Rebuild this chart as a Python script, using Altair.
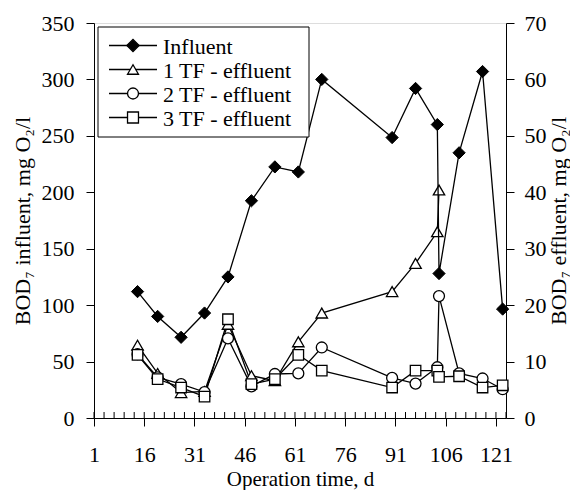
import altair as alt
import pandas as pd

FONT = "Liberation Serif, Times New Roman, Times, DejaVu Serif, serif"

# ---------------- data ----------------
inf_days = [14, 20, 27, 34, 41, 48, 55, 62, 69, 90, 97, 103.5, 104, 110, 117, 123]
inf_vals = [112, 90, 71.5, 93, 125, 192.5, 222.5, 218, 300, 248.5, 292, 260, 128, 235, 307, 96.5]

tf1_days = [14, 20, 27, 34, 41, 48, 55, 62, 69, 90, 97, 103.5, 104]
tf1_vals = [12.9, 7.9, 4.5, 4.7, 16.6, 7.5, 6.6, 13.5, 18.6, 22.4, 27.4, 33.0, 40.4]

tf2_days = [14, 20, 27, 34, 41, 48, 55, 62, 69, 90, 97, 103.5, 104, 110, 117, 123]
tf2_vals = [11.3, 7.2, 6.0, 4.6, 14.1, 5.6, 7.8, 7.9, 12.5, 7.1, 6.1, 9.0, 21.6, 7.9, 7.0, 5.1]

tf3_days = [14, 20, 27, 34, 41, 48, 55, 62, 69, 90, 97, 103.5, 104, 110, 117, 123]
tf3_vals = [11.2, 6.9, 5.4, 3.8, 17.5, 6.0, 6.9, 11.2, 8.4, 5.4, 8.4, 8.4, 7.3, 7.4, 5.4, 5.8]

x_major = [1, 16, 31, 46, 61, 76, 91, 106, 121]
x_minor = list(range(1, 125, 3))
y_left_ticks = [0, 50, 100, 150, 200, 250, 300, 350]
y_right_ticks = [0, 10, 20, 30, 40, 50, 60, 70]

legend_labels = ["Influent", "1 TF - effluent", "2 TF - effluent", "3 TF - effluent"]
legend_shapes = ["diamond", "triangle-up", "circle", "square"]
legend_fills = ["black", "white", "white", "white"]

# ---------------- chart ----------------
W, H = 412, 395
FS = 22      # tick labels
TFS = 22     # axis titles
LFS = 22     # legend
LW = 1.3

common = dict(
    grid=False, domainColor="black", tickColor="black", labelFont=FONT,
    labelFontSize=FS, labelColor="black", titleFont=FONT,
    titleFontWeight="normal", titleColor="black", labelFlush=False, tickSize=8,
)

xenc = alt.X(
    "day:Q",
    scale=alt.Scale(domain=[1, 124], nice=False, zero=False),
    axis=alt.Axis(
        values=x_major, title="Operation time, d", labelPadding=35,
        labelBaseline="alphabetic", titleY=67, titleBaseline="alphabetic",
        titleFontSize=21, **common,
    ),
)

yl = alt.Y(
    "val:Q",
    scale=alt.Scale(domain=[0, 350], nice=False),
    axis=alt.Axis(
        values=y_left_ticks, title="BOD₇ influent, mg O₂/l", orient="left",
        labelPadding=12, titleX=-72, titleY=H / 2, titleAngle=-90,
        titleAlign="center", titleBaseline="middle", titleFontSize=TFS, **common,
    ),
)

yr = alt.Y(
    "val:Q",
    scale=alt.Scale(domain=[0, 70], nice=False),
    axis=alt.Axis(
        values=y_right_ticks, title="BOD₇ effluent, mg O₂/l", orient="right",
        labelPadding=10, titleX=52, titleY=H / 2, titleAngle=-90,
        titleAlign="center", titleBaseline="middle", titleFontSize=TFS, **common,
    ),
)

inf_df = pd.DataFrame({"day": inf_days, "val": inf_vals})
inf_line = alt.Chart(inf_df).mark_line(color="black", strokeWidth=LW).encode(x=xenc, y=yl)
inf_pts = alt.Chart(inf_df).mark_point(
    shape="diamond", filled=True, fill="black", stroke="black", strokeWidth=1,
    size=150, opacity=1
).encode(x=xenc, y=yl)

# inner tick marks on the x axis
minor_df = pd.DataFrame({"day": x_minor})
minor = alt.Chart(minor_df).mark_rule(color="black", strokeWidth=1).encode(
    x=xenc, y=alt.value(H), y2=alt.value(H - 6)
)

# legend
one = pd.DataFrame({"k": [0]})
leg_layers = [
    alt.Chart(one).mark_rect(fill="white", stroke="black", strokeWidth=1).encode(
        x=alt.value(4), x2=alt.value(215), y=alt.value(4), y2=alt.value(114)
    )
]
for i, (lab, shp, fl) in enumerate(zip(legend_labels, legend_shapes, legend_fills)):
    yy = 22.5 + 24 * i
    leg_layers.append(
        alt.Chart(one).mark_rule(color="black", strokeWidth=LW).encode(
            x=alt.value(15), x2=alt.value(63), y=alt.value(yy)
        )
    )
    leg_layers.append(
        alt.Chart(one).mark_point(
            shape=shp, filled=True, fill=fl, stroke="black", strokeWidth=LW,
            size=150 if shp == "diamond" else 120, opacity=1
        ).encode(x=alt.value(39), y=alt.value(yy))
    )
    leg_layers.append(
        alt.Chart(one).mark_text(
            text=lab, align="left", baseline="middle", font=FONT, fontSize=LFS,
            color="black"
        ).encode(x=alt.value(69), y=alt.value(yy + 1))
    )

left_group = alt.layer(minor, inf_line, inf_pts, *leg_layers)

eff_lines = []
eff_pts = []
for days, vals, shp, sz in [
    (tf1_days, tf1_vals, "triangle-up", 130),
    (tf2_days, tf2_vals, "circle", 120),
    (tf3_days, tf3_vals, "square", 110),
]:
    df = pd.DataFrame({"day": days, "val": vals})
    eff_lines.append(alt.Chart(df).mark_line(color="black", strokeWidth=LW).encode(x=xenc, y=yr))
    eff_pts.append(
        alt.Chart(df).mark_point(
            shape=shp, filled=True, fill="white", stroke="black", strokeWidth=LW,
            size=sz, opacity=1
        ).encode(x=xenc, y=yr)
    )

right_group = alt.layer(*eff_lines, *eff_pts)

chart = (
    alt.layer(right_group, left_group)
    .resolve_scale(y="independent")
    .properties(
        width=W, height=H,
        padding={"left": 86, "top": 15, "right": 64, "bottom": 72},
        autosize=alt.AutoSizeParams(type="none"),
    )
    .configure_view(stroke="black", strokeWidth=1)
    .configure(background="white", font=FONT)
)

chart.save("out.html", embed_options={"renderer": "svg", "actions": False})
